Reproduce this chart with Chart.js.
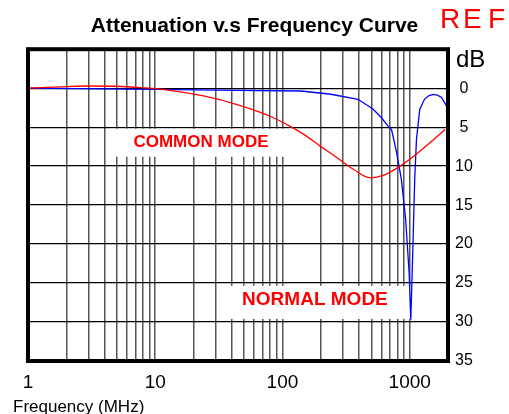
<!DOCTYPE html>
<html>
<head>
<meta charset="utf-8">
<script src="https://cdn.jsdelivr.net/npm/chart.js@4.4.1/dist/chart.umd.min.js"></script>
<style>
  html, body { margin: 0; padding: 0; background: #fff; }
</style>
</head>
<body>
<canvas id="myChart" width="509" height="414"></canvas>
<script>
// normal mode curve (blue), MHz / dB
const normalFreq = [1, 10, 30, 140, 240, 393, 517, 600, 678, 720, 790, 860, 930, 990, 1020, 1060, 1095, 1130, 1200, 1310, 1420, 1530, 1650, 1780, 1950];
const normalDb = [0.0, 0.15, 0.25, 0.36, 0.78, 1.43, 2.7, 3.8, 4.9, 5.3, 8.3, 11.7, 16.9, 23.7, 29.7, 20.3, 11.7, 6.6, 2.7, 1.4, 0.95, 0.8, 0.9, 1.2, 2.3];

// common mode curve (red), MHz / dB
const commonFreq = [1, 2, 3, 5, 8, 13, 24, 44, 80, 115, 146, 197, 267, 360, 490, 620, 840, 1100, 1440, 1900];
const commonDb = [0.0, -0.2, -0.28, -0.25, -0.05, 0.27, 1.0, 2.1, 3.6, 4.9, 5.9, 7.4, 8.9, 10.4, 11.5, 11.2, 10.0, 8.6, 7.0, 5.3];

// axes
const xLabelValues = [1, 10, 100, 1000];
const xGridValues = [1, 2, 3, 4, 5, 6, 7, 8, 9, 10, 20, 30, 40, 50, 60, 70, 80, 90, 100, 200, 300, 400, 500, 600, 700, 800, 900, 1000, 2000];
const yTickValues = [0, 5, 10, 15, 20, 25, 30, 35];

const FONT = "'Liberation Sans', Arial, sans-serif";
Chart.defaults.font.family = FONT;
Chart.defaults.color = '#000';

// text boxes inside the plot, in data units: [fFrom, fTo, dbTop, dbBottom]
const modeLabels = [
    { text: 'COMMON MODE', size: 17, box: [4.4, 119, 5.2, 8.8] },
    { text: 'NORMAL MODE', size: 19, box: [31, 2000, 25.35, 29.6], at: [180, 27.2] }
];

const extras = {
    id: 'extras',
    beforeDatasetsDraw(chart) {
        const { ctx, scales: { x, y } } = chart;
        modeLabels.forEach(l => {
            const x0 = x.getPixelForValue(l.box[0]), x1 = x.getPixelForValue(l.box[1]);
            const y0 = y.getPixelForValue(l.box[2]), y1 = y.getPixelForValue(l.box[3]);
            ctx.save();
            ctx.fillStyle = '#fff';
            ctx.fillRect(x0, y0, x1 - x0, y1 - y0);
            ctx.fillStyle = '#ff0000';
            ctx.font = `bold ${l.size}px ${FONT}`;
            ctx.textAlign = 'center';
            ctx.textBaseline = 'middle';
            const tx = l.at ? x.getPixelForValue(l.at[0]) : (x0 + x1) / 2;
            const ty = l.at ? y.getPixelForValue(l.at[1]) : (y0 + y1) / 2;
            ctx.fillText(l.text, tx, ty);
            ctx.restore();
        });
    },
    afterDraw(chart) {
        const { ctx, chartArea: a } = chart;
        ctx.save();
        ctx.strokeStyle = '#000';
        ctx.lineWidth = 4;
        ctx.strokeRect(a.left, a.top, a.right - a.left, a.bottom - a.top);

        ctx.fillStyle = '#000';
        ctx.textBaseline = 'alphabetic';
        ctx.textAlign = 'left';
        ctx.font = `24px ${FONT}`;
        ctx.fillText('dB', a.right + 8, a.top + 18);
        ctx.font = `17px ${FONT}`;
        ctx.fillText('Frequency (MHz)', 13, 412);

        // REF mark, spaced letters
        ctx.fillStyle = '#ff0000';
        ctx.font = `28px ${FONT}`;
        ctx.fillText('R', 440, 28);
        ctx.fillText('E', 463, 28);
        ctx.fillText('F', 488, 28);
        ctx.restore();
    }
};

const ctx = document.getElementById('myChart');

new Chart(ctx, {
    type: 'line',
    data: {
        datasets: [{
            label: 'Common mode',
            data: commonFreq.map((f, i) => ({ x: f, y: commonDb[i] })),
            borderColor: '#ff0000',
            borderWidth: 1.3,
            pointRadius: 0,
            cubicInterpolationMode: 'monotone'
        }, {
            label: 'Normal mode',
            data: normalFreq.map((f, i) => ({ x: f, y: normalDb[i] })),
            borderColor: '#0000ff',
            borderWidth: 1.3,
            pointRadius: 0,
            tension: 0
        }]
    },
    options: {
        responsive: false,
        animation: false,
        devicePixelRatio: 1,
        layout: { padding: { left: 28, right: 28, top: 0, bottom: 0 } },
        plugins: {
            legend: { display: false },
            tooltip: { enabled: false },
            title: {
                display: true,
                text: 'Attenuation v.s Frequency Curve',
                color: '#000',
                font: { size: 21, weight: 'bold' },
                padding: { top: 14, bottom: 10 }
            }
        },
        scales: {
            x: {
                type: 'logarithmic',
                min: 1,
                max: 2000,
                afterBuildTicks: scale => {
                    scale.ticks = xGridValues.map(v => ({ value: v }));
                },
                afterFit: scale => { scale.height = 53; },
                grid: { color: '#555', lineWidth: 1.5, drawTicks: false },
                border: { display: false },
                ticks: {
                    autoSkip: false,
                    maxRotation: 0,
                    padding: 10,
                    font: { size: 19 },
                    color: '#000',
                    callback: value => xLabelValues.includes(value) ? String(value) : ''
                }
            },
            y: {
                position: 'right',
                reverse: true,
                min: -5,
                max: 35,
                afterBuildTicks: scale => {
                    scale.ticks = [-5].concat(yTickValues).map(v => ({ value: v }));
                },
                afterFit: scale => { scale.width = 33; },
                grid: { color: '#000', lineWidth: 1.3, drawTicks: false },
                border: { display: false },
                ticks: {
                    padding: 7,
                    crossAlign: 'center',
                    font: { size: 16 },
                    color: '#000',
                    callback: value => yTickValues.includes(value) ? String(value) : ''
                }
            }
        }
    },
    plugins: [extras]
});
</script>
</body>
</html>
